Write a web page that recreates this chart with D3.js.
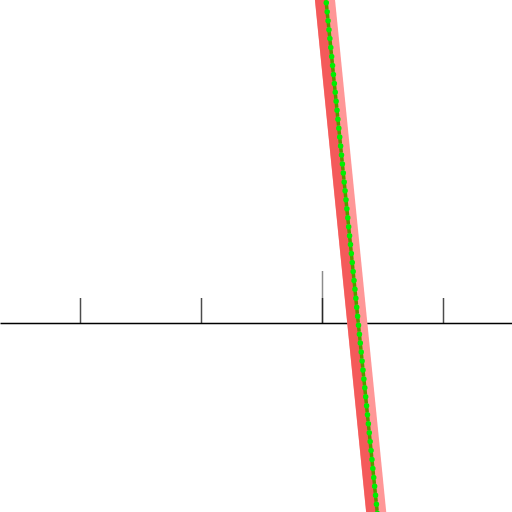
<!DOCTYPE html>
<html>
<head>
<meta charset="utf-8">
<script src="https://cdn.jsdelivr.net/npm/d3@7"></script>
<style>
  html, body { margin: 0; padding: 0; background: #fff; }
  svg { display: block; }
</style>
</head>
<body>
<svg id="chart" width="512" height="512"></svg>
<script>
const WIDTH = 512;
const HEIGHT = 512;
const AXIS_Y = 323;

// data
const tickValues = [-2, -1, 0, 1];
const majorTicks = [0];
const lineX = [0, 0.5];
const lineY = [3.0, -2.0];

let svg = d3.select("#chart");

// same units both ways, 121px per unit, origin at (322, 323)
let xScale = d3.scaleLinear()
               .domain([-322 / 121, (WIDTH - 322) / 121])
               .range([0, WIDTH]);
let yScale = d3.scaleLinear()
               .domain([AXIS_Y / 121, -(HEIGHT - AXIS_Y) / 121])
               .range([0, HEIGHT]);

// axis with short ticks
let xaxis = d3.axisTop(xScale)
              .tickValues(tickValues)
              .tickSize(25)
              .tickSizeOuter(0)
              .tickFormat("");
let x_axis = svg.append("g")
                .attr("transform", "translate(0," + AXIS_Y + ")")
                .call(xaxis);
x_axis.select(".domain").attr("stroke", "#000").attr("stroke-width", 1.5);
x_axis.selectAll(".tick line").attr("stroke", "#000").attr("stroke-opacity", 0.7).attr("stroke-width", 1.5);

// taller tick at the origin
let majoraxis = d3.axisTop(xScale)
                  .tickValues(majorTicks)
                  .tickSize(52)
                  .tickSizeOuter(0)
                  .tickFormat("");
let major = svg.append("g")
               .attr("transform", "translate(0," + AXIS_Y + ")")
               .call(majoraxis);
major.select(".domain").remove();
major.selectAll(".tick line").attr("stroke", "#000").attr("stroke-opacity", 0.45).attr("stroke-width", 1.5);

let points = lineX.map((d, i) => [d, lineY[i]]);
let line = d3.line()
             .x(d => xScale(d[0]))
             .y(d => yScale(d[1]));

// pink band, red band, then green dashes on top
svg.append("path")
   .datum(points)
   .attr("fill", "none")
   .attr("stroke", "#ff9797")
   .attr("stroke-width", 20)
   .attr("transform", "translate(-1,0)")
   .attr("d", line);

svg.append("path")
   .datum(points)
   .attr("fill", "none")
   .attr("stroke", "#f45a5a")
   .attr("stroke-width", 12)
   .attr("transform", "translate(-5,0)")
   .attr("d", line);

svg.append("path")
   .datum(points)
   .attr("fill", "none")
   .attr("stroke", "#5a9600")
   .attr("stroke-width", 3.5)
   .attr("stroke-dasharray", "4.5,4.5")
   .attr("d", line);

svg.append("path")
   .datum(points)
   .attr("fill", "none")
   .attr("stroke", "#00ee00")
   .attr("stroke-width", 5.5)
   .attr("stroke-linecap", "round")
   .attr("stroke-dasharray", "0,9")
   .attr("stroke-dashoffset", 2)
   .attr("d", line);
</script>
</body>
</html>
